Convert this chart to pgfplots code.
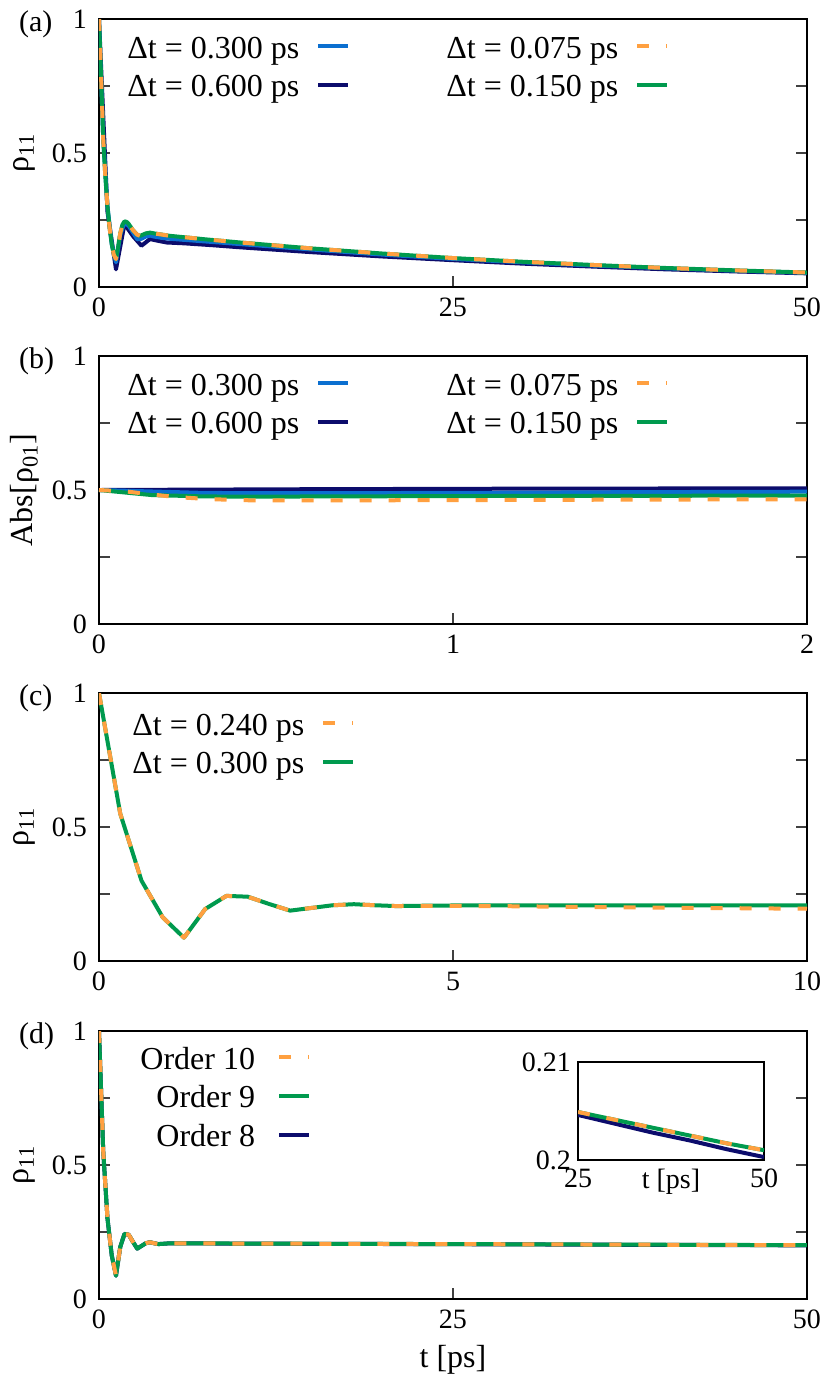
\documentclass[border=0pt]{standalone}
\usepackage{fontspec}
\setmainfont{Liberation Serif}
\usepackage{pgfplots}
\pgfplotsset{compat=1.18}

\definecolor{cblue}{HTML}{0B6FD0}
\definecolor{cnavy}{HTML}{0C0C6C}
\definecolor{cgreen}{HTML}{009A4E}
\definecolor{corange}{HTML}{FFA040}

\pgfplotsset{
  lblue/.style={cblue, line width=2pt, line join=round},
  lnavy/.style={cnavy, line width=2pt, line join=round},
  lgreen/.style={cgreen, line width=2pt, line join=round},
  lorange/.style={corange, line width=2pt, line join=round, dash pattern=on 6pt off 8.5pt},
  col1/.style={legend image code/.code={%
      \draw[##1] (0pt,0pt) -- (15pt,0pt);
      \path[draw=none, fill=none] (0pt,0pt) -- (55.5pt,0pt);}},
  panel/.style={
    scale only axis, width=354pt, height=134pt,
    anchor=south west,
    ymin=0, ymax=1,
    ytick={0,0.25,0.5,0.75,1}, yticklabels={0,,0.5,,1},
    xtick pos=left, ytick pos=both,
    tick align=inside,
    major tick length=5.5pt,
    tick style={line width=0.6pt, black!75},
    axis line style={line width=0.9pt},
    ticklabel style={font=\fontsize{14}{16}\selectfont},
    xticklabel style={yshift=-2pt},
    yticklabel style={xshift=-2.5pt},
    label style={font=\fontsize{16}{19}\selectfont},
    /pgf/number format/assume math mode=true,
    y label style={at={(axis description cs:-0.105,0.5)}, anchor=center},
    clip mode=individual,
    legend cell align=right,
    legend plot pos=right,
    legend style={draw=none, fill=none, font=\fontsize{16}{19}\selectfont,
      anchor=north west, inner sep=0pt, nodes={inner sep=0pt},
      column sep=8.5pt, row sep=4.5pt},
    legend image code/.code={\draw[##1] (0pt,0pt) -- (15pt,0pt);},
  },
}

\begin{document}
\begin{tikzpicture}
\useasboundingbox (0pt,0pt) rectangle (415pt,-691.5pt);

% ---------------- (a)
\begin{axis}[panel, name=pa, at={(49.5pt,-143.5pt)},
  xmin=0, xmax=50, xtick={0,25,50}, xticklabels={0,25,50},
  ylabel={ρ\textsubscript{11}},
  legend columns=2,
  legend style={at={(axis description cs:0.0395,0.9545)}}]
\addplot[lnavy, forget plot] coordinates {(0,1)(0.6,0.28)(1.2,0.066)(1.8,0.235)(2.4,0.19)(3.0,0.154)(3.6,0.179)(4.2,0.172)(4.8,0.166)(6,0.163)(8,0.156)(10,0.148)(15,0.130)(20,0.114)(25,0.100)(30,0.087)(35,0.076)(40,0.066)(45,0.058)(50,0.051)};
\addplot[lblue, forget plot] coordinates {(0,1)(0.3,0.55)(0.6,0.30)(0.9,0.16)(1.2,0.092)(1.5,0.195)(1.8,0.24)(2.1,0.228)(2.4,0.203)(2.7,0.178)(3.0,0.180)(3.3,0.188)(3.6,0.192)(3.9,0.188)(4.5,0.183)(5,0.180)(7.5,0.170)(10,0.160)(15,0.140)(20,0.121)(25,0.105)(30,0.092)(35,0.080)(40,0.070)(45,0.061)(50,0.053)};
\addplot[lgreen, forget plot] coordinates {(0,1)(0.15,0.78)(0.3,0.55)(0.45,0.41)(0.6,0.30)(0.75,0.22)(0.9,0.16)(1.05,0.12)(1.2,0.104)(1.35,0.15)(1.5,0.20)(1.65,0.232)(1.8,0.245)(1.95,0.243)(2.1,0.235)(2.4,0.212)(2.7,0.195)(2.9,0.191)(3.0,0.193)(3.3,0.200)(3.6,0.203)(3.9,0.200)(4.5,0.195)(5,0.191)(7.5,0.178)(10,0.166)(15,0.144)(20,0.125)(25,0.108)(30,0.094)(35,0.082)(40,0.071)(45,0.062)(50,0.054)};
\addplot[lorange, forget plot] coordinates {(0,1)(0.15,0.78)(0.3,0.55)(0.45,0.41)(0.6,0.30)(0.75,0.22)(0.9,0.16)(1.05,0.12)(1.2,0.104)(1.35,0.15)(1.5,0.20)(1.65,0.232)(1.8,0.245)(1.95,0.243)(2.1,0.235)(2.4,0.212)(2.7,0.195)(2.9,0.191)(3.0,0.193)(3.3,0.200)(3.6,0.203)(3.9,0.200)(4.5,0.195)(5,0.191)(7.5,0.178)(10,0.166)(15,0.144)(20,0.125)(25,0.108)(30,0.094)(35,0.082)(40,0.071)(45,0.062)(50,0.054)};
\addlegendimage{lblue, col1}\addlegendentry{\strut Δt = 0.300 ps}
\addlegendimage{lorange}\addlegendentry{\strut Δt = 0.075 ps}
\addlegendimage{lnavy, col1}\addlegendentry{\strut Δt = 0.600 ps}
\addlegendimage{lgreen}\addlegendentry{\strut Δt = 0.150 ps}
\end{axis}
\node[anchor=west, font=\fontsize{15}{18}\selectfont] at ([xshift=-43.5pt,yshift=-2.5pt]pa.north west) {(a)};

% ---------------- (b)
\begin{axis}[panel, name=pb, at={(49.5pt,-312pt)},
  xmin=0, xmax=2, xtick={0,1,2}, xticklabels={0,1,2},
  ylabel={Abs[ρ\textsubscript{01}]},
  legend columns=2,
  legend style={at={(axis description cs:0.0395,0.9545)}}]
\addplot[lnavy, forget plot] coordinates {(0,0.5)(0.6,0.503)(1.2,0.505)(1.8,0.506)(2.4,0.506)};
\addplot[lblue, forget plot] coordinates {(0,0.5)(0.3,0.489)(0.6,0.488)(0.9,0.489)(1.2,0.490)(1.5,0.492)(1.8,0.493)(2.1,0.494)};
\addplot[lgreen, forget plot] coordinates {(0,0.5)(0.15,0.481)(0.3,0.476)(0.45,0.475)(0.6,0.476)(0.9,0.477)(1.2,0.478)(1.5,0.478)(1.8,0.479)(2.1,0.479)};
\addplot[lorange, forget plot] coordinates {(0,0.5)(0.075,0.495)(0.15,0.483)(0.225,0.473)(0.3,0.467)(0.375,0.463)(0.45,0.461)(0.6,0.461)(0.9,0.462)(1.2,0.463)(1.5,0.464)(1.8,0.465)(2.1,0.465)};
\addlegendimage{lblue, col1}\addlegendentry{\strut Δt = 0.300 ps}
\addlegendimage{lorange}\addlegendentry{\strut Δt = 0.075 ps}
\addlegendimage{lnavy, col1}\addlegendentry{\strut Δt = 0.600 ps}
\addlegendimage{lgreen}\addlegendentry{\strut Δt = 0.150 ps}
\end{axis}
\node[anchor=west, font=\fontsize{15}{18}\selectfont] at ([xshift=-43.5pt,yshift=-2.5pt]pb.north west) {(b)};

% ---------------- (c)
\begin{axis}[panel, name=pc, at={(49.5pt,-480.5pt)},
  xmin=0, xmax=10, xtick={0,5,10}, xticklabels={0,5,10},
  ylabel={ρ\textsubscript{11}},
  reverse legend,
  legend style={at={(axis description cs:0.0466,0.943)}}]
\addplot[lgreen] coordinates {(0,1)(0.3,0.55)(0.6,0.30)(0.9,0.163)(1.2,0.087)(1.5,0.194)(1.8,0.243)(2.1,0.240)(2.4,0.213)(2.7,0.188)(3.0,0.198)(3.3,0.208)(3.6,0.212)(3.9,0.208)(4.2,0.205)(4.5,0.206)(4.8,0.207)(6,0.208)(8,0.208)(10,0.208)};
\addlegendentry{\strut Δt = 0.300 ps}
\addplot[lorange] coordinates {(0,1)(0.3,0.55)(0.6,0.30)(0.9,0.163)(1.2,0.087)(1.5,0.194)(1.8,0.243)(2.1,0.240)(2.4,0.213)(2.7,0.188)(3.0,0.198)(3.3,0.208)(3.6,0.212)(3.9,0.208)(4.2,0.205)(4.5,0.206)(5,0.206)(6,0.204)(7,0.201)(8,0.199)(9,0.197)(10,0.195)};
\addlegendentry{\strut Δt = 0.240 ps}
\end{axis}
\node[anchor=west, font=\fontsize{15}{18}\selectfont] at ([xshift=-43.5pt,yshift=-2.5pt]pc.north west) {(c)};

% ---------------- (d)
\begin{axis}[panel, name=pd, at={(49.5pt,-649.5pt)},
  xmin=0, xmax=50, xtick={0,25,50}, xticklabels={0,25,50},
  ylabel={ρ\textsubscript{11}},
  xlabel={t [ps]},
  x label style={at={(axis description cs:0.5,0)}, anchor=center, yshift=-30.5pt},
  reverse legend,
  legend style={at={(axis description cs:0.058,0.958)}, column sep=11pt}]
\addplot[lnavy] coordinates {(0,1)(0.3,0.55)(0.6,0.30)(0.9,0.163)(1.2,0.087)(1.5,0.194)(1.8,0.243)(2.1,0.240)(2.4,0.213)(2.7,0.188)(3.0,0.198)(3.3,0.208)(3.6,0.212)(3.9,0.208)(4.2,0.205)(4.5,0.206)(5,0.2078)(10,0.2068)(15,0.2060)(20,0.2053)(25,0.2046)(30,0.2037)(35,0.2028)(40,0.2020)(45,0.2011)(50,0.2003)};
\addlegendentry{\strut Order 8}
\addplot[lgreen] coordinates {(0,1)(0.3,0.55)(0.6,0.30)(0.9,0.163)(1.2,0.087)(1.5,0.194)(1.8,0.243)(2.1,0.240)(2.4,0.213)(2.7,0.188)(3.0,0.198)(3.3,0.208)(3.6,0.212)(3.9,0.208)(4.2,0.205)(4.5,0.206)(5,0.208)(10,0.207)(15,0.2063)(20,0.2056)(25,0.2049)(30,0.2041)(35,0.2033)(40,0.2025)(45,0.2017)(50,0.2010)};
\addlegendentry{\strut Order 9}
\addplot[lorange] coordinates {(0,1)(0.3,0.55)(0.6,0.30)(0.9,0.163)(1.2,0.087)(1.5,0.194)(1.8,0.243)(2.1,0.240)(2.4,0.213)(2.7,0.188)(3.0,0.198)(3.3,0.208)(3.6,0.212)(3.9,0.208)(4.2,0.205)(4.5,0.206)(5,0.208)(10,0.207)(15,0.2063)(20,0.2056)(25,0.2049)(30,0.2041)(35,0.2033)(40,0.2025)(45,0.2017)(50,0.2010)};
\addlegendentry{\strut Order 10}
\end{axis}
\node[anchor=west, font=\fontsize{15}{18}\selectfont] at ([xshift=-43.5pt,yshift=-2.5pt]pd.north west) {(d)};

% ---------------- inset
\begin{axis}[at={(289pt,-580pt)}, anchor=south west,
  scale only axis, width=93pt, height=49pt,
  xmin=25, xmax=50, ymin=0.2, ymax=0.21,
  xtick={25,50}, xticklabels={25,50},
  ytick={0.2,0.21}, yticklabels={0.2,0.21},
  tick style={draw=none},
  axis line style={line width=0.6pt},
  axis background/.style={fill=white},
  ticklabel style={font=\fontsize{14}{16}\selectfont},
  xticklabel style={yshift=-1pt},
  xlabel={t [ps]},
  x label style={font=\fontsize{14}{16}\selectfont, at={(axis description cs:0.5,0)}, anchor=north, yshift=-1pt},
  clip mode=individual]
\addplot[lnavy] coordinates {(25,0.2046)(30,0.2037)(35,0.2028)(40,0.2020)(45,0.2011)(50,0.2003)};
\addplot[lgreen] coordinates {(25,0.2049)(30,0.2041)(35,0.2033)(40,0.2025)(45,0.2017)(50,0.2010)};
\addplot[lorange] coordinates {(25,0.2049)(30,0.2041)(35,0.2033)(40,0.2025)(45,0.2017)(50,0.2010)};
\end{axis}
\end{tikzpicture}
\end{document}
